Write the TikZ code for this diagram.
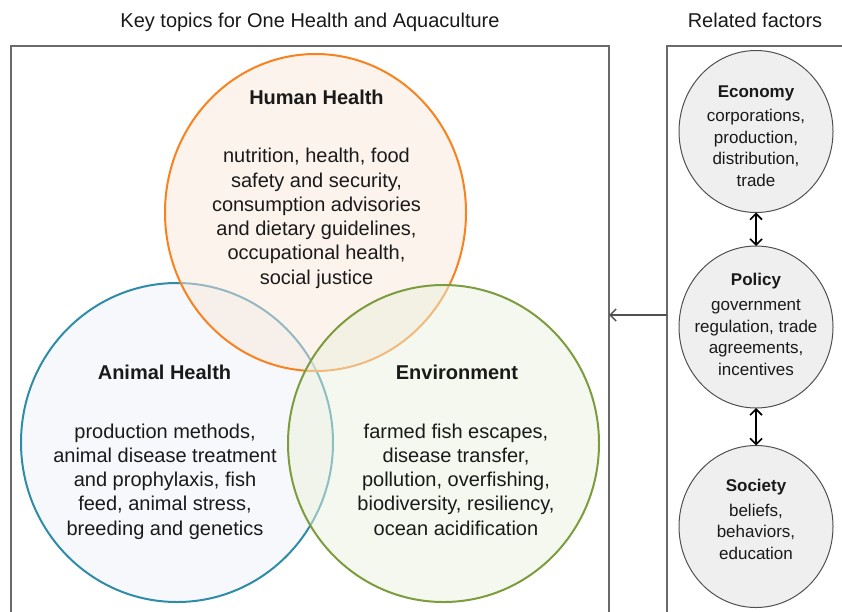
\documentclass[tikz,border=0pt]{standalone}
\usepackage{fontspec}
\setmainfont{Liberation Sans}
\usetikzlibrary{arrows.meta,shapes.geometric}

\definecolor{inkdark}{HTML}{1A1A1A}
\definecolor{panelline}{HTML}{6A6A6A}
\definecolor{humanline}{HTML}{F7821E}
\definecolor{humanfill}{HTML}{F9E7D9}
\definecolor{animalline}{HTML}{2F8CA8}
\definecolor{animalfill}{HTML}{EEF2F7}
\definecolor{envline}{HTML}{7C9C3E}
\definecolor{envfill}{HTML}{EBF1DD}
\definecolor{factorfill}{HTML}{EFEFEF}
\definecolor{factorline}{HTML}{505050}

\begin{document}
\begin{tikzpicture}[x=1pt,y=-1pt,
  heading/.style={anchor=base, inner sep=0pt, text=inkdark,
    font=\fontsize{20}{24}\selectfont},
  panel/.style={draw=panelline, line width=1.3pt, rectangle,
    inner sep=0pt, outer sep=0pt, minimum height=620pt},
  topic/.style={ellipse, inner sep=0pt, outer sep=0pt, line width=2pt,
    fill opacity=0.5, draw opacity=1},
  topictitle/.style={anchor=base, inner sep=0pt, text=inkdark,
    font=\fontsize{20}{24.25}\selectfont\bfseries},
  topicbody/.style={anchor=base, inner sep=0pt, text=inkdark, align=center,
    font=\fontsize{20}{24.25}\selectfont},
  factor/.style={ellipse, inner sep=0pt, outer sep=0pt, line width=1pt,
    draw=factorline, fill=factorfill, minimum width=154pt, minimum height=162pt},
  factortitle/.style={anchor=base, inner sep=0pt, text=inkdark,
    font=\fontsize{17}{21.5}\selectfont\bfseries},
  factorbody/.style={anchor=base, inner sep=0pt, text=inkdark, align=center,
    font=\fontsize{17}{21.5}\selectfont},
  twoway/.style={{Straight Barb[length=6pt,width=12pt,line width=1.6pt]}-{Straight Barb[length=6pt,width=12pt,line width=1.6pt]},
    line width=1.4pt, draw=black},
  influence/.style={-{Straight Barb[length=6pt,width=12pt,line width=1.5pt]}, line width=1.2pt, draw=factorline}
]
\useasboundingbox (0,0) rectangle (842,611);
\clip (0,0) rectangle (842,611);

% section headings
\node[heading] (keytitle) at (310,27) {Key topics for One Health and Aquaculture};
\node[heading] (reltitle) at (755,27) {Related factors};

% the two panels (open at the bottom edge)
\node[panel, minimum width=598pt, anchor=north west] (leftpanel) at (11,46) {};
\node[panel, minimum width=300pt, anchor=north west] (rightpanel) at (667,46) {};

% Venn diagram of the three key topics
\node[topic, draw=animalline, fill=animalfill, minimum width=312pt, minimum height=319pt]
  (ah) at (177,442.5) {};
\node[topic, draw=humanline, fill=humanfill, minimum width=301pt, minimum height=317pt]
  (hh) at (315.5,212.5) {};
\node[topic, draw=envline, fill=envfill, minimum width=311pt, minimum height=317pt]
  (env) at (443.5,443.5) {};

\node[topictitle] (hhtitle) at (316.5,104) {Human Health};
\node[topicbody] (hhbody) at (316.5,284) {nutrition, health, food\\safety and security,\\consumption advisories\\and dietary guidelines,\\occupational health,\\social justice};

\node[topictitle] (ahtitle) at (164.5,379) {Animal Health};
\node[topicbody] (ahbody) at (165,535) {production methods,\\animal disease treatment\\and prophylaxis, fish\\feed, animal stress,\\breeding and genetics};

\node[topictitle] (envtitle) at (457,379) {Environment};
\node[topicbody] (envbody) at (456,535) {farmed fish escapes,\\disease transfer,\\pollution, overfishing,\\biodiversity, resiliency,\\ocean acidification};

% related factors
\node[factor] (eco) at (756,131.5) {};
\node[factor] (pol) at (756,327) {};
\node[factor] (soc) at (756,526.5) {};

\node[factortitle] (ecotitle) at (756,97) {Economy};
\node[factorbody] (ecobody) at (756,186) {corporations,\\production,\\distribution,\\trade};

\node[factortitle] (poltitle) at (756,285) {Policy};
\node[factorbody] (polbody) at (756,375) {government\\regulation, trade\\agreements,\\incentives};

\node[factortitle] (soctitle) at (756,491) {Society};
\node[factorbody] (socbody) at (756,559) {beliefs,\\behaviors,\\education};

\draw[twoway] (eco.south) -- (pol.north);
\draw[twoway] (pol.south) -- (soc.north);

% link from the factors panel to the key topics panel
\coordinate (linkstart) at (667,315);
\draw[influence] (linkstart) -- (linkstart -| leftpanel.east);
\end{tikzpicture}
\end{document}
